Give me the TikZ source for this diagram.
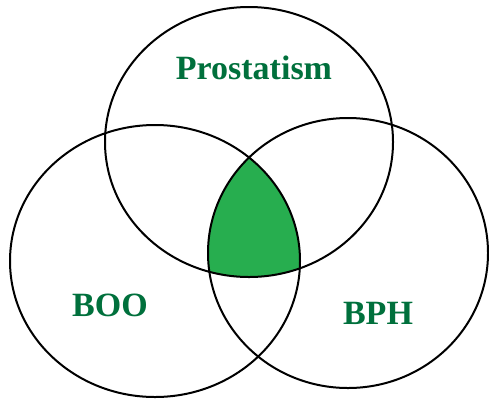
\documentclass[tikz,border=0pt]{standalone}
\usepackage{fontspec}
\setmainfont{Liberation Serif}
\definecolor{txtgreen}{RGB}{0,112,60}
\definecolor{fillgreen}{RGB}{39,174,79}
\begin{document}
\begin{tikzpicture}[x=1pt,y=-1pt,
  ring/.style={draw=black,line width=2pt},
  lbl/.style={text=txtgreen,font=\fontsize{34}{40}\selectfont\bfseries,inner sep=0pt}]
\useasboundingbox (0,0) rectangle (489,400);
\begin{scope}
  \clip (249,142) ellipse [x radius=144,y radius=135];
  \clip (155,261) ellipse [x radius=145,y radius=136];
  \fill[fillgreen] (348,253) ellipse [x radius=140,y radius=135];
\end{scope}
\draw[ring] (249,142) ellipse [x radius=144,y radius=135];
\draw[ring] (155,261) ellipse [x radius=145,y radius=136];
\draw[ring] (348,253) ellipse [x radius=140,y radius=135];
\node[lbl] (p) at (254,68) {Prostatism};
\node[lbl] (b) at (110,305) {BOO};
\node[lbl] (h) at (378,313) {BPH};
\end{tikzpicture}
\end{document}
